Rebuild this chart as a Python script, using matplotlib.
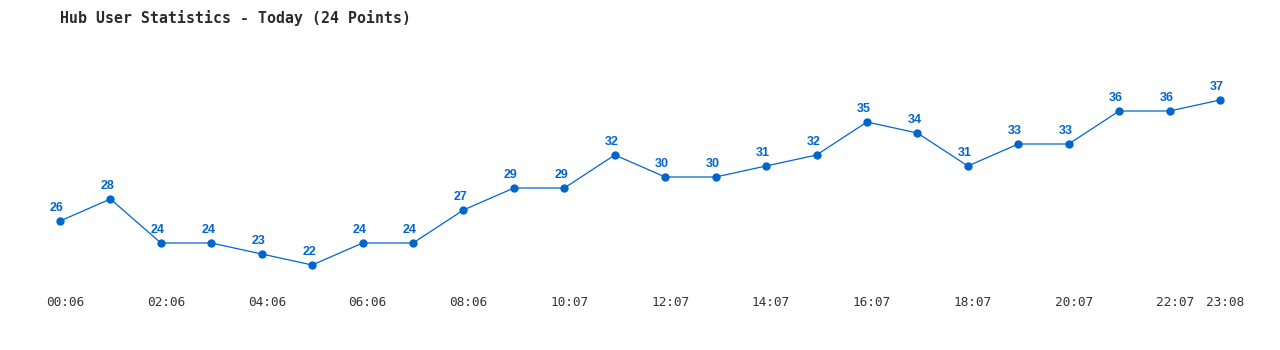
import matplotlib
matplotlib.use('Agg')
import matplotlib.pyplot as plt
import matplotlib.transforms as mtransforms

# ── data ──
times = ['00:06', '01:06', '02:06', '03:06', '04:06', '05:06', '06:06', '07:06',
         '08:06', '09:06', '10:07', '11:07', '12:07', '13:07', '14:07', '15:07',
         '16:07', '17:07', '18:07', '19:07', '20:07', '21:07', '22:07', '23:08']
users = [26, 28, 24, 24, 23, 22, 24, 24, 27, 29, 29, 32,
         30, 30, 31, 32, 35, 34, 31, 33, 33, 36, 36, 37]
title = 'Hub User Statistics - Today (24 Points)'

BLUE = '#0066cc'
W, H = 1280, 350

fig = plt.figure(figsize=(W / 100, H / 100), dpi=100)
ax = fig.add_axes([0, 0, 1, 1])
ax.set_axis_off()

# px scale: first point at x=60, last at x=1220; 11 px per user
step = (1220 - 60) / (len(users) - 1)
ax.set_xlim(-60 / step, len(users) - 1 + 60 / step)
ax.set_ylim(22 - 85 / 11, 37 + 100 / 11)

xs = list(range(len(users)))
ax.plot(xs, users, color=BLUE, lw=0.9, marker='o', ms=5, mec=BLUE, mfc=BLUE)

for x, v in zip(xs, users):
    ax.annotate(str(v), (x, v), xytext=(-3, 7), textcoords='offset pixels',
                ha='center', va='bottom', color=BLUE, fontsize=9,
                fontweight='bold', family='Liberation Sans')

# time labels: every other point plus the last one
trans = mtransforms.blended_transform_factory(ax.transData, fig.transFigure)
for i, t in enumerate(times):
    if i % 2 == 0 or i == len(times) - 1:
        ax.text(i + 5 / step, 1 - 303 / H, t, transform=trans, ha='center',
                va='center', fontsize=9.2, color='#333333',
                family='DejaVu Sans Mono')

fig.text(60 / W, 1 - 18 / H, title, ha='left', va='center', fontsize=10.7,
         fontweight='bold', color='#2a2a2a', family='DejaVu Sans Mono')

fig.savefig('out.png', dpi=100)
